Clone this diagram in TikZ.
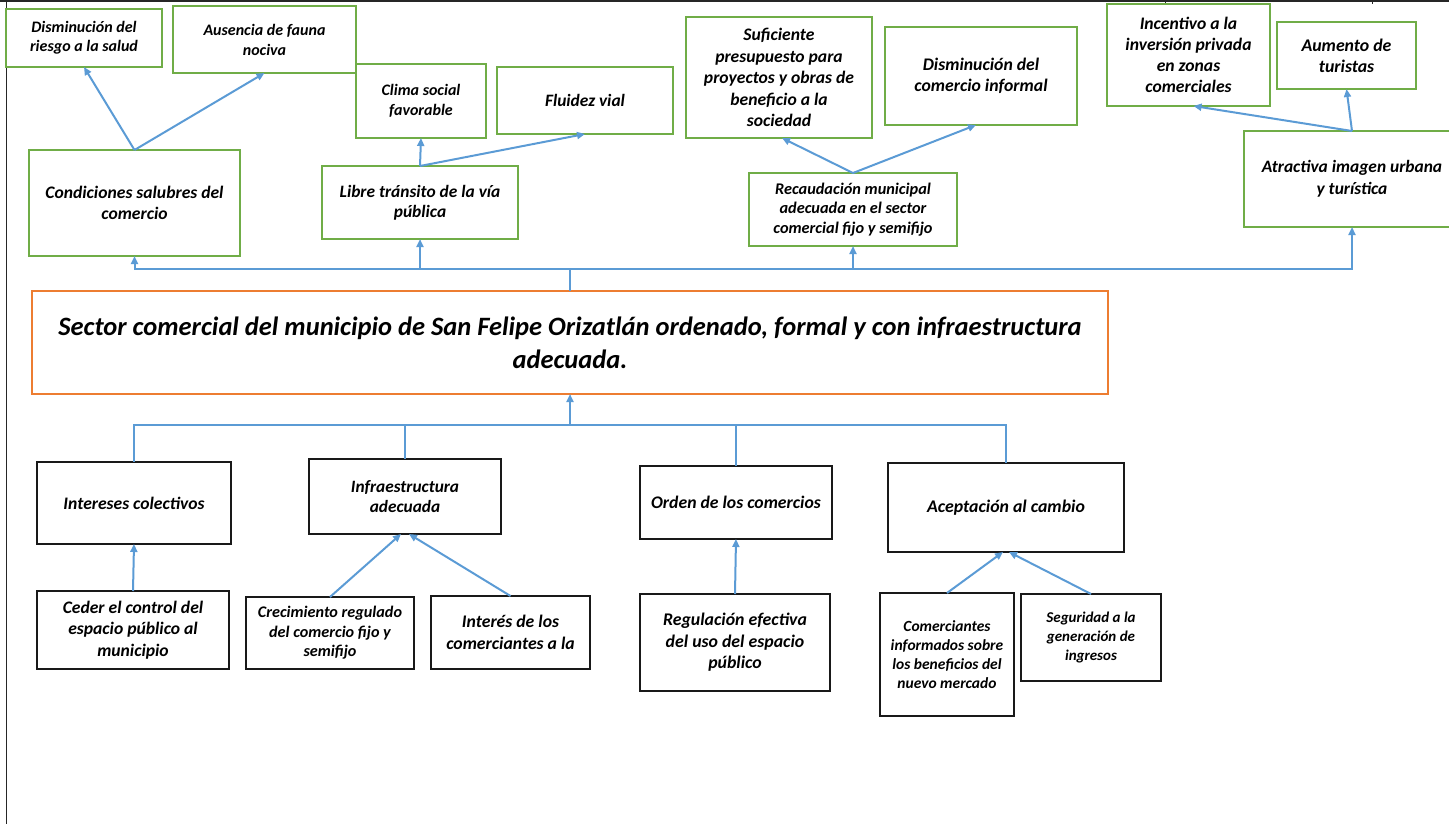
\documentclass[tikz,border=0pt]{standalone}
\usepackage{fontspec}
\setmainfont{Carlito}
\usetikzlibrary{arrows.meta}
\definecolor{efectoverde}{RGB}{112,173,71}
\definecolor{flechaazul}{RGB}{91,155,213}
\definecolor{objnaranja}{RGB}{237,125,49}

\begin{document}
\begin{tikzpicture}[x=1pt, y=1pt, yscale=-1, inner sep=0pt, outer sep=0pt,
  efecto/.style={draw=efectoverde, line width=1.8pt, align=center},
  medio/.style={draw=black!90, line width=1.8pt, align=center},
  objetivo/.style={draw=objnaranja, line width=1.8pt, align=center},
  liga/.style={draw=flechaazul, line width=2pt},
  flecha/.style={liga, -{Triangle[length=8pt,width=7pt]}},
  letra/.style 2 args={font=\fontsize{#1}{#2}\selectfont\bfseries\itshape}]
\useasboundingbox (0,0) rectangle (1449,824);
% marco de la hoja
\draw[black!85, line width=2pt] (0,1) -- (1449,1);
\draw[black!85, line width=1.5pt] (6.5,0) -- (6.5,824);
\draw[black!85, line width=1pt] (1165,0) -- (1165,4);
\draw[black!85, line width=1pt] (1372,0) -- (1372,4);

% efectos
\node[efecto, letra={16}{19}, minimum width=156pt, minimum height=58pt] (riesgo) at (84,38) {Disminución del\\riesgo a la salud};
\node[efecto, letra={16}{20}, minimum width=183pt, minimum height=67pt] (fauna) at (264.5,39.5) {Ausencia de fauna\\nociva};
\node[efecto, letra={16}{19.5}, minimum width=130pt, minimum height=74pt] (clima) at (421,101) {Clima social\\favorable};
\node[efecto, letra={17.4}{19}, minimum width=176pt, minimum height=67pt] (fluidez) at (585,100.5) {Fluidez vial};
\node[efecto, letra={17.6}{21}, minimum width=211pt, minimum height=106pt] (salubres) at (134.5,203) {Condiciones salubres del\\comercio};
\node[efecto, letra={17.4}{20}, minimum width=196pt, minimum height=73pt] (transito) at (420,202.5) {Libre tránsito de la vía\\pública};
\node[efecto, letra={17.6}{21.5}, minimum width=186pt, minimum height=121pt] (presupuesto) at (779,77.5) {Suficiente\\presupuesto para\\proyectos y obras de\\beneficio a la\\sociedad};
\node[efecto, letra={17.7}{21}, minimum width=192pt, minimum height=98pt] (informal) at (981,76) {Disminución del\\comercio informal};
\node[efecto, letra={16.3}{19.5}, minimum width=208pt, minimum height=73pt] (recaudacion) at (853,209.5) {Recaudación municipal\\adecuada en el sector\\comercial fijo y semifijo};
\node[efecto, letra={17.6}{21}, minimum width=163pt, minimum height=102pt] (inversion) at (1188.5,55) {Incentivo a la\\inversión privada\\en zonas\\comerciales};
\node[efecto, letra={17.8}{21}, minimum width=139pt, minimum height=67pt] (turistas) at (1346.5,55.5) {Aumento de\\turistas};
\node[efecto, letra={17.4}{22}, minimum width=216pt, minimum height=96pt] (imagen) at (1352,179) {Atractiva imagen urbana\\y turística};

% objetivo
\node[objetivo, letra={26.5}{33}, minimum width=1076pt, minimum height=103pt] (sector) at (570,342.5) {Sector comercial del municipio de San Felipe Orizatlán ordenado, formal y con infraestructura\\adecuada.};

% medios
\node[medio, letra={17.6}{20}, minimum width=194pt, minimum height=82pt] (colectivos) at (134,503) {Intereses colectivos};
\node[medio, letra={17.3}{20}, minimum width=192pt, minimum height=75pt] (infra) at (405,496.5) {Infraestructura\\adecuada};
\node[medio, letra={17.7}{20}, minimum width=192pt, minimum height=73pt] (orden) at (736,502.5) {Orden de los comercios};
\node[medio, letra={17.8}{20}, minimum width=236pt, minimum height=89pt] (cambio) at (1006,507.5) {Aceptación al cambio};
\node[medio, letra={17.6}{21.5}, minimum width=192pt, minimum height=78pt] (ceder) at (133,630) {Ceder el control del\\espacio público al\\municipio};
\node[medio, letra={16.2}{19.5}, minimum width=168pt, minimum height=72pt] (crecimiento) at (330,633) {Crecimiento regulado\\del comercio fijo y\\semifijo};
\node[medio, letra={17.7}{22}, minimum width=159pt, minimum height=73pt] (interes) at (510.5,632.5) {Interés de los\\comerciantes a la};
\node[medio, letra={17.8}{21.5}, minimum width=190pt, minimum height=97pt] (regulacion) at (735,642.5) {Regulación efectiva\\del uso del espacio\\público};
\node[medio, letra={15.5}{19}, minimum width=134pt, minimum height=123pt] (informados) at (947,654.5) {Comerciantes\\informados sobre\\los beneficios del\\nuevo mercado};
\node[medio, letra={15}{19}, minimum width=140pt, minimum height=87pt] (seguridad) at (1091,637.5) {Seguridad a la\\generación de\\ingresos};

% ligas superiores
\coordinate (busarriba) at (570,269);
\draw[liga] (sector.north) -- (busarriba);
\draw[flecha] (busarriba) -| (salubres.south);
\draw[flecha] (busarriba) -| (transito.south);
\draw[flecha] (busarriba) -| (recaudacion.south);
\draw[flecha] (busarriba) -| (imagen.south);
\draw[flecha] (salubres.north) -- (riesgo.south);
\draw[flecha] (salubres.north) -- (fauna.south);
\draw[flecha] (transito.north) -- (clima.south);
\draw[flecha] (transito.north) -- (fluidez.south);
\draw[flecha] (recaudacion.north) -- ([xshift=3pt]presupuesto.south);
\draw[flecha] (recaudacion.north) -- ([xshift=-5pt]informal.south);
\draw[flecha] (imagen.north) -- ([xshift=5pt]inversion.south);
\draw[flecha] (imagen.north) -- (turistas.south);

% ligas inferiores
\coordinate (busabajo) at (570,425);
\draw[flecha] (busabajo) -- (sector.south);
\draw[liga] (busabajo) -| (colectivos.north);
\draw[liga] (busabajo) -| (infra.north);
\draw[liga] (busabajo) -| (orden.north);
\draw[liga] (busabajo) -| (cambio.north);
\draw[flecha] (ceder.north) -- (colectivos.south);
\draw[flecha] (crecimiento.north) -- ([xshift=-4pt]infra.south);
\draw[flecha] (interes.north) -- ([xshift=4pt]infra.south);
\draw[flecha] (regulacion.north) -- (orden.south);
\draw[flecha] (informados.north) -- ([xshift=-3pt]cambio.south);
\draw[flecha] (seguridad.north) -- ([xshift=3pt]cambio.south);
\end{tikzpicture}
\end{document}
